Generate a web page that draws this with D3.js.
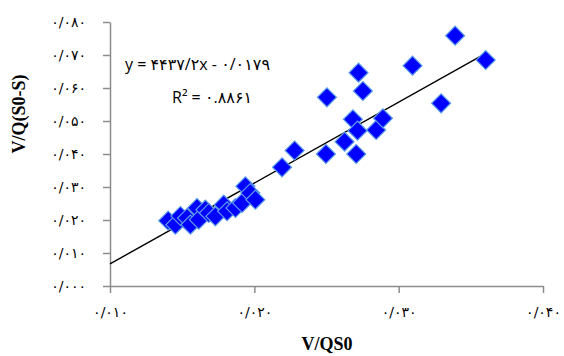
<!DOCTYPE html>
<html>
<head>
<meta charset="utf-8">
<script src="https://cdn.jsdelivr.net/npm/d3@7"></script>
<style>
	body { margin: 0; background: #fff; }
	svg { display: block; }
	.tick text { font-family: "DejaVu Sans", sans-serif; font-size: 14px; fill: #000; letter-spacing: 2.4px; }
	.axis path, .axis line { stroke: #8c8c8c; stroke-width: 1.5px; }
	.title { font-family: "Liberation Serif", serif; font-weight: bold; font-size: 18px; }
	.eq { font-family: "Open Sans", "DejaVu Sans", sans-serif; font-size: 16px; }
</style>
</head>
<body>
<div id="chart"></div>
<script>
// measured points (V/QS0, V/Q(S0-S))
const xValues = [
	0.01403, 0.01453, 0.01488, 0.01534, 0.01557, 0.01603, 0.01615, 0.01661, 0.01684,
	0.01730, 0.01788, 0.01811, 0.01869, 0.01915, 0.01938, 0.01972, 0.02007,
	0.02192, 0.02279, 0.02496, 0.02625, 0.02706, 0.02683, 0.02715, 0.02844, 0.02891,
	0.02503, 0.02752, 0.02722, 0.03096, 0.03294, 0.03391, 0.03603
];
const yValues = [
	0.01979, 0.01858, 0.02121, 0.02061, 0.01858, 0.02364, 0.02009, 0.02312, 0.02212,
	0.02112, 0.02464, 0.02264, 0.02364, 0.02515, 0.03021, 0.02818, 0.02615,
	0.03597, 0.04106, 0.04000, 0.04373, 0.04000, 0.05052, 0.04706, 0.04727, 0.05082,
	0.05718, 0.05909, 0.06464, 0.06676, 0.05536, 0.07585, 0.06848
];

const xTicks = [0.01, 0.02, 0.03, 0.04];
const xTickLabels = ["۰/۰۱۰", "۰/۰۲۰", "۰/۰۳۰", "۰/۰۴۰"];
const yTicks = [0, 0.01, 0.02, 0.03, 0.04, 0.05, 0.06, 0.07, 0.08];
const yTickLabels = ["۰/۰۰۰", "۰/۰۱۰", "۰/۰۲۰", "۰/۰۳۰", "۰/۰۴۰", "۰/۰۵۰", "۰/۰۶۰", "۰/۰۷۰", "۰/۰۸۰"];

// linear trend line as drawn in the chart
const trendSlope = 2.45;
const trendIntercept = -0.0178;
const trendRange = [0.01, 0.03603];
const equationText = "y = ۴۴۳۷/۲x - ۰/۰۱۷۹";
const r2Text = "R² = ۰.۸۸۶۱";

const width = 564, height = 356;
const margin = { top: 22, right: 21, bottom: 70, left: 110 };
const innerW = width - margin.left - margin.right;
const innerH = height - margin.top - margin.bottom;

const svg = d3.select("#chart")
	.append("svg")
	.attr("width", width)
	.attr("height", height);

const g = svg.append("g")
	.attr("transform", "translate(" + margin.left + "," + margin.top + ")");

const x = d3.scaleLinear().domain([0.01, 0.04]).range([0, innerW]);
const y = d3.scaleLinear().domain([0, 0.08]).range([innerH, 0]);

// axes
const xAxis = d3.axisBottom(x)
	.tickValues(xTicks)
	.tickSize(7)
	.tickSizeOuter(0)
	.tickPadding(14)
	.tickFormat((d, i) => xTickLabels[i]);
g.append("g")
	.classed("axis", true)
	.attr("transform", "translate(0," + innerH + ")")
	.call(xAxis);

const yAxis = d3.axisLeft(y)
	.tickValues(yTicks)
	.tickSize(7)
	.tickSizeOuter(0)
	.tickPadding(17)
	.tickFormat((d, i) => yTickLabels[i]);
g.append("g")
	.classed("axis", true)
	.call(yAxis);

// trend line
g.append("line")
	.attr("x1", x(trendRange[0]))
	.attr("y1", y(trendSlope * trendRange[0] + trendIntercept))
	.attr("x2", x(trendRange[1]))
	.attr("y2", y(trendSlope * trendRange[1] + trendIntercept))
	.attr("stroke", "#000")
	.attr("stroke-width", 1.4);

// markers
const diamond = d3.symbol().type(d3.symbolSquare).size(180);
g.selectAll()
	.data(xValues.map((v, i) => [v, yValues[i]]))
	.enter()
	.append("path")
	.attr("d", diamond)
	.attr("transform", d => "translate(" + x(d[0]) + "," + y(d[1]) + ") rotate(45)")
	.attr("fill", "#0000ff")
	.attr("stroke", "#5a9be6")
	.attr("stroke-width", 1.2);

// trend equation
g.append("text")
	.classed("eq", true)
	.attr("x", 15)
	.attr("y", 48)
	.text(equationText);
g.append("text")
	.classed("eq", true)
	.attr("x", 62)
	.attr("y", 81)
	.text(r2Text);

// axis titles
svg.append("text")
	.classed("title", true)
	.attr("text-anchor", "middle")
	.attr("x", 327)
	.attr("y", 350)
	.text("V/QS0");
svg.append("text")
	.classed("title", true)
	.attr("text-anchor", "middle")
	.attr("transform", "translate(25,114) rotate(-90)")
	.text("V/Q(S0-S)");
</script>
</body>
</html>
